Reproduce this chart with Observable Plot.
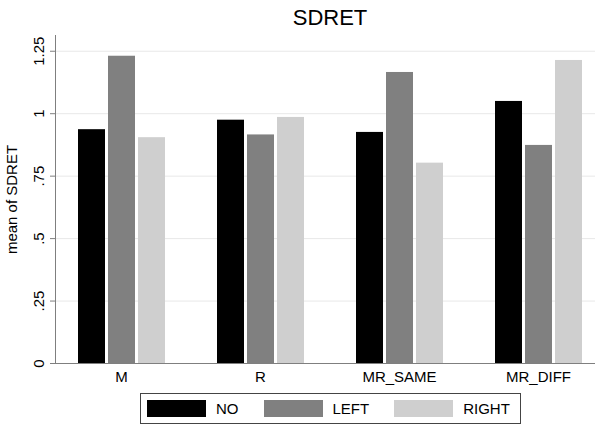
<!DOCTYPE html>
<html>
<head>
<meta charset="utf-8">
<script src="https://cdn.jsdelivr.net/npm/d3@7"></script>
<script src="https://cdn.jsdelivr.net/npm/@observablehq/plot@0.6"></script>
<style>
  html, body { margin: 0; padding: 0; background: #fff; }
  #wrap { position: relative; width: 595px; height: 427px; overflow: hidden; background: #fff;
          font-family: "Liberation Sans", Arial, Helvetica, sans-serif; }
  #title { position: absolute; left: 55px; width: 550px; top: 7px; line-height: 22px;
           font-size: 22px; text-align: center; color: #000; }
  .layer { position: absolute; left: 0; top: 0; }
  #legend { position: absolute; left: 140px; top: 393px; height: 29px; box-sizing: content-box;
            border: 1px solid #444; display: flex; align-items: center; padding: 0 10px 0 6px; }
  .item { display: flex; align-items: center; margin-right: 25px; }
  .item:last-child { margin-right: 0; }
  .sw { width: 59px; height: 17px; margin-right: 10px; }
  .lab { font-size: 15px; color: #000; line-height: 17px; }
</style>
</head>
<body>
<div id="wrap">
  <div id="title"></div>
  <div id="legend"></div>
</div>
<script>
const chartTitle = "SDRET";
const yLabel = "mean of SDRET";
const groups = ["M", "R", "MR_SAME", "MR_DIFF"];
const series = ["NO", "LEFT", "RIGHT"];
const noVals = [0.936, 0.974, 0.925, 1.049];
const leftVals = [1.230, 0.915, 1.165, 0.873];
const rightVals = [0.904, 0.985, 0.802, 1.213];
const yTicks = [0, 0.25, 0.5, 0.75, 1, 1.25];
const yTickLabels = ["0", ".25", ".5", ".75", "1", "1.25"];
const colors = ["#000000", "#808080", "#cfcfcf"];

const valuesBySeries = [noVals, leftVals, rightVals];
const data = [];
groups.forEach((g, gi) => series.forEach((s, si) => data.push({group: g, series: s, value: valuesBySeries[si][gi]})));

const W = 595, H = 392;
const margins = {marginTop: 35, marginBottom: 29, marginLeft: 55, marginRight: 0};
const yDomain = [0, 1.313];
const font = "'Liberation Sans', Arial, Helvetica, sans-serif";
const axisGray = "#7f7f7f";

const wrap = document.getElementById("wrap");
document.getElementById("title").textContent = chartTitle;

const back = Plot.plot({
  width: W, height: H, ...margins,
  style: {fontFamily: font, fontSize: "15px", color: axisGray, background: "transparent"},
  x: {domain: [0, 1], axis: null},
  y: {domain: yDomain, ticks: yTicks, tickSize: 5, tickFormat: () => "", label: null},
  marks: [
    Plot.ruleY(yTicks.slice(1), {stroke: "#e8e8e8", strokeWidth: 1}),
    Plot.ruleY([0], {stroke: axisGray}),
    Plot.ruleX([0], {stroke: axisGray}),
    Plot.text(yTicks, {y: d => d, text: (d, i) => yTickLabels[i], frameAnchor: "left", dx: -16,
      rotate: -90, textAnchor: "middle", lineAnchor: "middle", fill: "#000", fontSize: 15}),
    Plot.text([yLabel], {text: d => d, frameAnchor: "left", dx: -43, rotate: -90,
      textAnchor: "middle", lineAnchor: "middle", fill: "#000", fontSize: 15})
  ]
});
back.classList.add("layer");
wrap.appendChild(back);

const front = Plot.plot({
  width: W, height: H, ...margins,
  style: {fontFamily: font, fontSize: "15px", color: "#000", background: "transparent"},
  fx: {domain: groups, paddingInner: 0.37, paddingOuter: 0.126, align: 0.616,
       tickSize: 0, tickPadding: 8, label: null, axis: "bottom"},
  x: {domain: series, paddingInner: 0.1, paddingOuter: 0, axis: null},
  y: {domain: yDomain, axis: null},
  color: {domain: series, range: colors},
  marks: [
    Plot.barY(data, {fx: "group", x: "series", y: "value", fill: "series"})
  ]
});
front.classList.add("layer");
wrap.appendChild(front);

const legend = document.getElementById("legend");
series.forEach((s, i) => {
  const item = document.createElement("div");
  item.className = "item";
  const sw = document.createElement("div");
  sw.className = "sw";
  sw.style.background = colors[i];
  const lab = document.createElement("span");
  lab.className = "lab";
  lab.textContent = s;
  item.appendChild(sw);
  item.appendChild(lab);
  legend.appendChild(item);
});
wrap.appendChild(legend);
</script>
</body>
</html>
